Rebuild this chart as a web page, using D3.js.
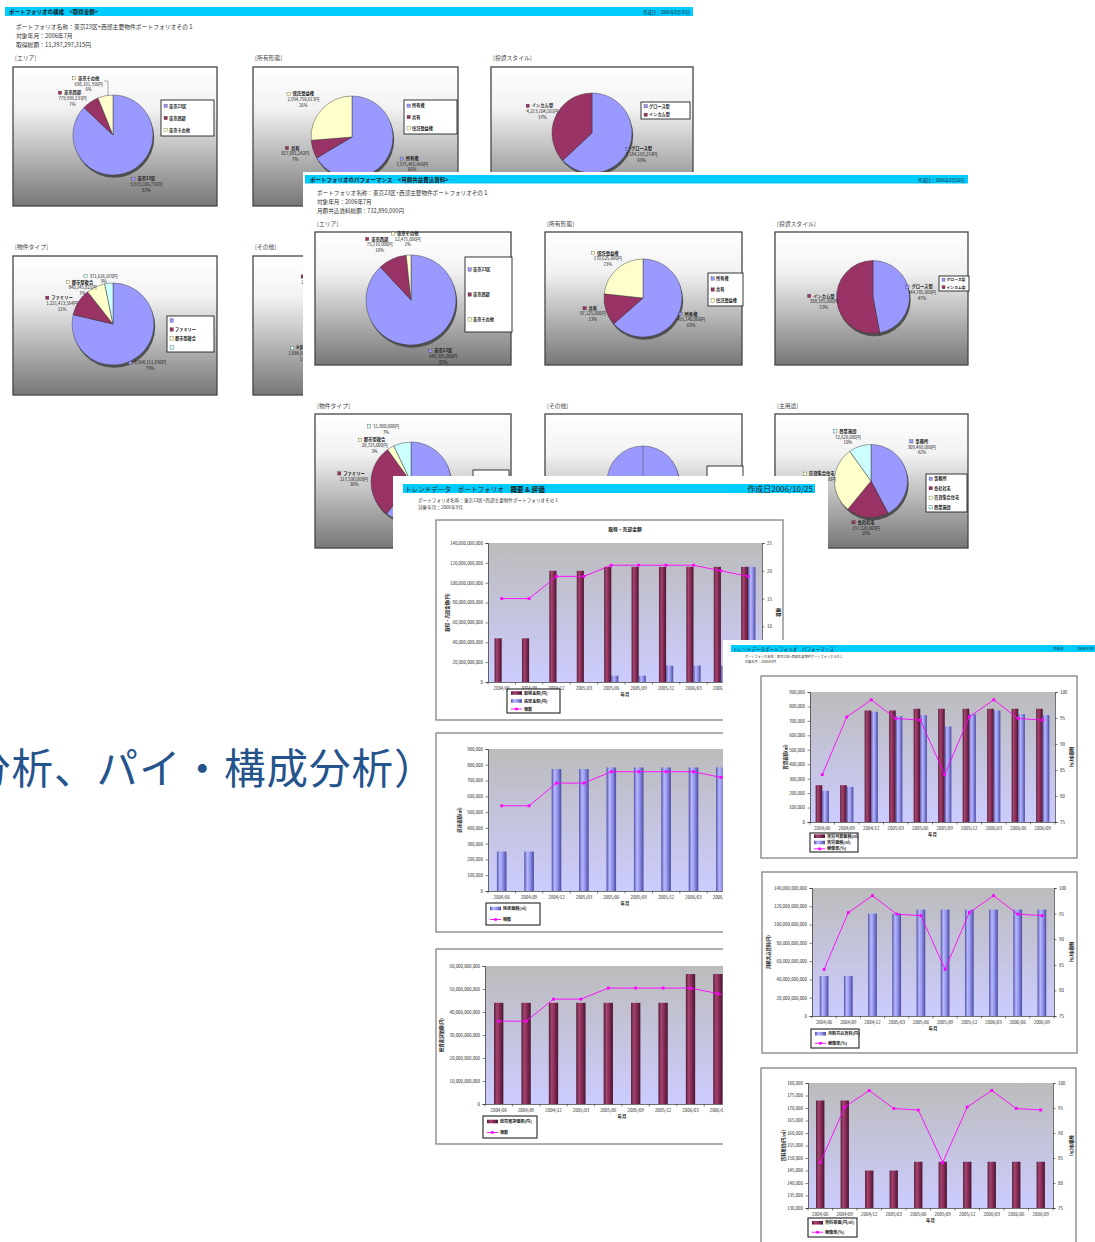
<!DOCTYPE html>
<html><head><meta charset="utf-8">
<script src="https://cdn.jsdelivr.net/npm/d3@7"></script>
<style>body{margin:0;background:#fff;overflow:hidden}svg{display:block}</style>
</head><body>
<script>
// ---------------- DATA ----------------
const periods = ["2004/06","2004/09","2004/12","2005/03","2005/06","2005/09","2005/12","2006/03","2006/06","2006/09"];
const acquisitionAmount = [44e9,44e9,112e9,112e9,116e9,116e9,116e9,116e9,116e9,116e9];
const saleAmount = [0,0,0,0,6.4e9,6.4e9,16.5e9,16.5e9,16.5e9,116e9];
const buildingCount = [15,15,19,19,21,21,21,21,20,19];
const floorArea = [250000,250000,773000,773000,783000,783000,783000,783000,783000,783000];
const assetValue = [44e9,44e9,44e9,44e9,44e9,44e9,44e9,56.5e9,56.5e9,56.5e9];
const leasableArea = [255000,255000,772000,772000,784000,784000,784000,784000,784000,784000];
const leasedArea = [216000,243000,763000,733000,740000,661000,747000,772000,747000,740000];
const occupancyRate = [84.1,95.2,98.5,94.9,94.6,84.1,95.2,98.5,94.9,94.6];
const monthlyRent = [43.6e9,43.6e9,112e9,112e9,116.4e9,116.4e9,116.4e9,116.4e9,116.4e9,116.4e9];
const unitRent = [173000,173000,145000,145000,148500,148500,148500,148500,148500,148500];

const areaCats = ["東京23区","東京西部","東京その他"];
const ownCats = ["所有権","共有","信託受益権"];
const styleCats = ["グロース型","インカム型"];
const typeCats = ["","ファミリー","都市型複合",""];
const otherCatsA = ["","Aタイプ","センター型"];
const otherCatsB = [""];
const useCats = ["事務所","会社社宅","賃貸集合住宅","商業施設"];

const acqAreaVals = [9919106732, 779999233, 698191350];
const acqOwnVals = [7575465460, 827081242, 2994750613];
const acqStyleVals = [7184193214, 4213104101];
const acqTypeVals = [8964111830, 1221413594, 840145821, 371626070];
const acqOtherVals = [7488911600, 1884025300, 2024360415];
const rentAreaVals = [645305000, 75110000, 12475000];
const rentOwnVals = [465140000, 97125000, 170625000];
const rentStyleVals = [344705000, 388185000];
const rentTypeVals = [442775000, 217590000, 20725000, 51800000];
const rentOtherVals = [732890000];
const rentUseVals = [309460000, 137320000, 213490000, 72620000];

const slideTitle = "分析、パイ・構成分析）";

// ---------------- STYLE ----------------
const BLUE="#9999ff", MAR="#993366", YEL="#ffffcc", CYN="#ccffff", MAG="#ff00ff", HDR="#00ccff";
const FONT='"Noto Sans CJK JP","Noto Sans",sans-serif';

const svg=d3.select("body").append("svg").attr("width",1095).attr("height",1242).style("font-family",FONT);
const defs=svg.append("defs");
function lin(id,stops,horiz){
  const g=defs.append("linearGradient").attr("id",id).attr("x1",0).attr("y1",0).attr("x2",horiz?1:0).attr("y2",horiz?0:1);
  stops.forEach(([o,c])=>g.append("stop").attr("offset",o).attr("stop-color",c));
}
lin("pieBg",[[0,"#ffffff"],[0.3,"#f2f2f2"],[1,"#777777"]]);
lin("plotBg",[[0,"#bcbcbc"],[1,"#ccccff"]]);
lin("barM",[[0,"#521a36"],[0.3,"#a4466f"],[0.55,"#8e2f5b"],[1,"#481530"]],true);
lin("barB",[[0,"#5050a8"],[0.3,"#b8b8ff"],[0.55,"#9c9cf2"],[1,"#4a4aa0"]],true);

function txt(g,x,y,s,o={}){
  return g.append("text").attr("x",x).attr("y",y).text(s)
    .attr("font-size",o.fs||5).attr("fill",o.fill||"#1a1a1a")
    .attr("font-weight",o.fw||400).attr("text-anchor",o.anchor||"start");
}
const fmtYen=v=>d3.format(",")(v)+"円";
const pct=d3.format(".0%");

// ---------------- PIE BOX ----------------
function pieBox(g,o){
  const [bx,by,bw,bh]=o.box;
  g.append("rect").attr("x",bx).attr("y",by).attr("width",bw).attr("height",bh)
    .attr("fill","url(#pieBg)").attr("stroke","#454545").attr("stroke-width",1.3);
  const total=d3.sum(o.vals);
  const arcs=d3.pie().sort(null)(o.vals);
  const arc=d3.arc().innerRadius(0).outerRadius(o.r);
  const pg=g.append("g").attr("transform",`translate(${o.cx},${o.cy})`);
  pg.append("circle").attr("cx",1.2).attr("cy",2.8).attr("r",o.r).attr("fill","#505050");
  pg.selectAll("path").data(arcs).join("path").attr("d",arc)
    .attr("fill",(d,i)=>o.colors[i]).attr("stroke","#3a3a3a").attr("stroke-width",0.45);
  if(arcs.length===1) pg.append("line").attr("x1",0).attr("y1",0).attr("x2",0).attr("y2",-o.r).attr("stroke","#3a3a3a").attr("stroke-width",0.45);
  const fs=o.fs||4.3, k=o.k||1.35;
  arcs.forEach((d,i)=>{
    if(o.hide&&o.hide.includes(i)) return;
    const a=(d.startAngle+d.endAngle)/2;
    const nd=(o.nudge&&o.nudge[i])||[0,0];
    const lx=o.cx+k*o.r*Math.sin(a)+nd[0], ly=o.cy-k*o.r*Math.cos(a)+nd[1];
    const lines=(o.cats[i]?[o.cats[i]]:[]).concat([fmtYen(o.vals[i]),pct(o.vals[i]/total)]);
    const lh=fs*1.3, y0=ly-(lines.length-1)*lh/2+fs*0.35;
    let firstW=0;
    lines.forEach((s,j)=>{
      const t=txt(g,lx,y0+j*lh,s,{fs,anchor:"middle",fw:j===0&&o.cats[i]?700:400});
      if(j===0) firstW=t.node().getComputedTextLength();
    });
    const ms=fs*0.75;
    g.append("rect").attr("x",lx-firstW/2-fs*1.3).attr("y",y0-ms).attr("width",ms).attr("height",ms)
      .attr("fill",o.colors[i]).attr("stroke","#333").attr("stroke-width",0.3);
  });
  const [lx,ly,lw,lh]=o.legend;
  g.append("rect").attr("x",lx).attr("y",ly).attr("width",lw).attr("height",lh)
    .attr("fill","#fff").attr("stroke","#222").attr("stroke-width",0.9);
  const step=lh/o.cats.length, lfs=o.lfs||4.2;
  const nShow=o.legShow==null?o.cats.length:o.legShow;
  o.cats.slice(0,nShow).forEach((c,i)=>{
    const cy=ly+step*(i+0.5);
    g.append("rect").attr("x",lx+3).attr("y",cy-lfs*0.4).attr("width",lfs*0.8).attr("height",lfs*0.8)
      .attr("fill",o.colors[i]).attr("stroke","#333").attr("stroke-width",0.3);
    if(c) txt(g,lx+3+lfs*1.2,cy+lfs*0.38,c,{fs:lfs,fw:700});
  });
}

// ---------------- TREND CHART ----------------
function trend(g,o){
  const [bx,by,bw,bh]=o.box;
  g.append("rect").attr("x",bx).attr("y",by).attr("width",bw).attr("height",bh)
    .attr("fill","#fff").attr("stroke","#8c8c8c").attr("stroke-width",1.4);
  const [px,py,pw,ph]=o.plot;
  g.append("rect").attr("x",px).attr("y",py).attr("width",pw).attr("height",ph).attr("fill","url(#plotBg)");
  const x=d3.scaleBand().domain(periods).range([px,px+pw]);
  const yL=d3.scaleLinear().domain(o.lDom).range([py+ph,py]);
  const yR=d3.scaleLinear().domain(o.rDom).range([py+ph,py]);
  const gw=x.bandwidth()*o.gFrac;
  const inner=d3.scaleBand().domain(d3.range(o.bars.length)).range([0,gw]);
  o.bars.forEach((s,si)=>{
    g.append("g").selectAll("rect").data(s.vals).join("rect")
      .attr("x",(v,i)=>x(periods[i])+x.bandwidth()/2-gw/2+inner(si))
      .attr("y",v=>yL(Math.max(v,o.lDom[0])))
      .attr("width",inner.bandwidth())
      .attr("height",v=>Math.max(0,yL(o.lDom[0])-yL(Math.max(v,o.lDom[0]))))
      .attr("fill",`url(#${s.grad})`);
  });
  const tfs=4.4;
  const la=d3.axisLeft(yL).tickValues(d3.range(o.lDom[0],o.lDom[1]+o.lStep/2,o.lStep)).tickFormat(d3.format(",")).tickSize(2.5).tickPadding(2.5);
  const ga=g.append("g").attr("transform",`translate(${px},0)`).call(la);
  const axes=[ga];
  if(!o.noRight){
    const ra=d3.axisRight(yR).tickValues(d3.range(o.rDom[0],o.rDom[1]+o.rStep/2,o.rStep)).tickSize(2.5).tickPadding(2.5);
    axes.push(g.append("g").attr("transform",`translate(${px+pw},0)`).call(ra));
  }
  axes.push(g.append("g").attr("transform",`translate(0,${py+ph})`).call(d3.axisBottom(x).tickSize(0).tickPadding(5)));
  axes.forEach(a=>{
    a.selectAll("path.domain").attr("stroke","#333").attr("stroke-width",0.7);
    a.selectAll("line").attr("stroke","#333").attr("stroke-width",0.6);
    a.selectAll("text").attr("font-size",tfs).attr("fill","#222").style("font-family",FONT);
  });
  g.append("g").selectAll("line").data(d3.range(periods.length+1)).join("line")
    .attr("x1",i=>px+i*x.step()).attr("x2",i=>px+i*x.step())
    .attr("y1",py+ph).attr("y2",py+ph+2.5).attr("stroke","#333").attr("stroke-width",0.6);
  if(o.title) txt(g,px+pw/2,py-12,o.title,{fs:4.8,anchor:"middle",fw:700});
  const cx=(v,i)=>x(periods[i])+x.bandwidth()/2;
  g.append("path").datum(o.line).attr("d",d3.line().x(cx).y(v=>yR(v)))
    .attr("fill","none").attr("stroke",MAG).attr("stroke-width",0.9);
  g.append("g").selectAll("rect").data(o.line).join("rect")
    .attr("x",(v,i)=>cx(v,i)-1.4).attr("y",v=>yR(v)-1.4).attr("width",2.8).attr("height",2.8).attr("fill",MAG);
  txt(g,0,0,o.lTitle,{fs:4.4,anchor:"middle",fw:700}).attr("transform",`translate(${o.lTx},${py+ph/2}) rotate(-90)`);
  if(o.rTitle) txt(g,0,0,o.rTitle,{fs:4.4,anchor:"middle",fw:700}).attr("transform",`translate(${o.rTx},${py+ph/2}) rotate(90)`);
  txt(g,px+pw/2,py+ph+14,"年月",{fs:4.4,anchor:"middle",fw:700});
  const [lx,ly,lw,lh]=o.legend;
  g.append("rect").attr("x",lx).attr("y",ly).attr("width",lw).attr("height",lh)
    .attr("fill","#fff").attr("stroke","#222").attr("stroke-width",1.1);
  const step=lh/o.legItems.length;
  o.legItems.forEach((it,i)=>{
    const cy=ly+step*(i+0.5);
    if(it.grad){
      g.append("rect").attr("x",lx+4).attr("y",cy-1.8).attr("width",11).attr("height",3.6).attr("fill",`url(#${it.grad})`);
    } else {
      g.append("line").attr("x1",lx+4).attr("x2",lx+15).attr("y1",cy).attr("y2",cy).attr("stroke",MAG).attr("stroke-width",0.9);
      g.append("rect").attr("x",lx+8.2).attr("y",cy-1.3).attr("width",2.6).attr("height",2.6).attr("fill",MAG);
    }
    txt(g,lx+17,cy+1.5,it.text,{fs:4.1,fw:700});
  });
}

// ================= SHEET A =================
const A=svg.append("g");
A.append("rect").attr("x",5).attr("y",7).attr("width",688).attr("height",9).attr("fill",HDR);
txt(A,9,14,"ポートフォリオの構成　<取得金額>",{fs:5.5,fw:700});
txt(A,690,14,"作成日：2006年8月10日",{fs:4.3,anchor:"end"});
txt(A,16,29,"ポートフォリオ名称：東京23区+西部主要物件ポートフォリオその１",{fs:5.8,fill:"#333"});
txt(A,16,38,"対象年月：2006年7月",{fs:5.8,fill:"#333"});
txt(A,16,47,"取得総額：11,397,297,315円",{fs:5.8,fill:"#333"});
txt(A,15,60,"[エリア]",{fs:5.8,fill:"#444"});
txt(A,255,60,"[所有形態]",{fs:5.8,fill:"#444"});
txt(A,493,60,"[投資スタイル]",{fs:5.8,fill:"#444"});
txt(A,15,249,"[物件タイプ]",{fs:5.8,fill:"#444"});
txt(A,255,249,"[その他]",{fs:5.8,fill:"#444"});
pieBox(A,{box:[13,67,204,139],cx:113,cy:135,r:40,cats:areaCats,vals:acqAreaVals,colors:[BLUE,MAR,YEL],legend:[161,100,53,36],nudge:[[12,0],[-10,8],[-14,2]]});
A.append("path").attr("d",d3.line()([[104,81],[108,81],[108,96]])).attr("fill","none").attr("stroke","#333").attr("stroke-width",0.4);
pieBox(A,{box:[253,67,205,139],cx:352,cy:137,r:41,cats:ownCats,vals:acqOwnVals,colors:[BLUE,MAR,YEL],legend:[404,100,53,34],nudge:[[12,0],[-4,0],[-8,0]]});
pieBox(A,{box:[491,67,202,139],cx:592,cy:133,r:40,cats:styleCats,vals:acqStyleVals,colors:[BLUE,MAR],legend:[641,102,49,17]});
pieBox(A,{box:[13,256,204,139],cx:113,cy:324,r:41,cats:typeCats,vals:acqTypeVals,colors:[BLUE,MAR,YEL,CYN],legend:[167,316,47,36],k:1.3,nudge:[[4,0],[-6,8],[-8,12],[-4,8]]});
pieBox(A,{box:[253,256,205,139],cx:352,cy:326,r:40,cats:otherCatsA,vals:acqOtherVals,colors:[BLUE,CYN,MAR],legend:[404,300,50,40],legShow:0,hide:[0],nudge:[[0,0],[6,24],[-6,2]]});

// ================= SHEET B =================
const B=svg.append("g");
B.append("rect").attr("x",303).attr("y",172).attr("width",680).attr("height",388).attr("fill","#fff");
B.append("rect").attr("x",305).attr("y",175).attr("width",663).attr("height",8.5).attr("fill",HDR);
txt(B,310,181.5,"ポートフォリオのパフォーマンス　<月額共益費込賃料>",{fs:5.5,fw:700});
txt(B,965,181.5,"作成日：2006年8月10日",{fs:4.3,anchor:"end"});
txt(B,317,195,"ポートフォリオ名称：東京23区+西部主要物件ポートフォリオその１",{fs:5.6,fill:"#333"});
txt(B,317,204,"対象年月：2006年7月",{fs:5.6,fill:"#333"});
txt(B,317,213,"月額共込賃料総額：732,890,000円",{fs:5.6,fill:"#333"});
txt(B,317,226,"[エリア]",{fs:5.8,fill:"#444"});
txt(B,547,226,"[所有形態]",{fs:5.8,fill:"#444"});
txt(B,777,226,"[投資スタイル]",{fs:5.8,fill:"#444"});
txt(B,317,408,"[物件タイプ]",{fs:5.8,fill:"#444"});
txt(B,547,408,"[その他]",{fs:5.8,fill:"#444"});
txt(B,777,408,"[主用途]",{fs:5.8,fill:"#444"});
pieBox(B,{box:[315,232,196,133],cx:411,cy:300,r:45,cats:areaCats,vals:rentAreaVals,colors:[BLUE,MAR,YEL],legend:[465,257,47,75],nudge:[[10,0],[-6,0],[0,0]]});
pieBox(B,{box:[545,232,197,133],cx:643,cy:298,r:39,cats:ownCats,vals:rentOwnVals,colors:[BLUE,MAR,YEL],legend:[708,273,35,33]});
pieBox(B,{box:[775,232,193,133],cx:873,cy:297,r:36.5,cats:styleCats,vals:rentStyleVals,colors:[BLUE,MAR],legend:[939,276,30,15],lfs:3.8});
pieBox(B,{box:[315,414,196,134],cx:411,cy:482,r:40,cats:typeCats,vals:rentTypeVals,colors:[BLUE,MAR,YEL,CYN],legend:[473,470,36,62],legShow:1,hide:[0],nudge:[[0,0],[-3,-2],[-9,10],[-13,0]]});
pieBox(B,{box:[545,414,197,134],cx:643,cy:482,r:36,cats:otherCatsB,vals:rentOtherVals,colors:[BLUE],legend:[707,466,36,60],legShow:0,hide:[0]});
pieBox(B,{box:[775,414,193,134],cx:871,cy:481,r:36.5,cats:useCats,vals:rentUseVals,colors:[BLUE,MAR,YEL,CYN],legend:[926,474,41,38],nudge:[[3,-22],[0,-2],[0,0],[-8,3]]});

// ================= SHEET C =================
const C=svg.append("g");
C.append("rect").attr("x",393).attr("y",476).attr("width",435).attr("height",766).attr("fill","#fff");
C.append("rect").attr("x",403).attr("y",484).attr("width",412).attr("height",9).attr("fill",HDR);
const hc=txt(C,405,491.6,"",{fs:6.6});
hc.append("tspan").text("トレンドデータ　ポートフォリオ　");
hc.append("tspan").attr("font-weight",700).text("概要 & 評価");
txt(C,813,491.8,"作成日2006/10/25",{fs:8,anchor:"end"});
txt(C,418,502,"ポートフォリオ名称：東京23区+西部主要物件ポートフォリオその１",{fs:4.6,fill:"#333"});
txt(C,418,509,"対象年月：2006年9月",{fs:4.6,fill:"#333"});
trend(C,{box:[436,520,347,200],plot:[488,543,274,139],title:"取得・売却金額",
  lDom:[0,140e9],lStep:20e9,rDom:[0,25],rStep:5,gFrac:0.52,
  bars:[{vals:acquisitionAmount,grad:"barM"},{vals:saleAmount,grad:"barB"}],line:buildingCount,
  lTitle:"取得・売却金額(円)",lTx:449,rTitle:"棟数",rTx:777,
  legend:[507,689,53,24],legItems:[{grad:"barM",text:"取得金額(円)"},{grad:"barB",text:"売却金額(円)"},{text:"棟数"}]});
trend(C,{box:[436,733,347,199],plot:[488,749,274,142],
  lDom:[0,900000],lStep:100000,rDom:[0,25],rStep:5,gFrac:0.35,noRight:true,
  bars:[{vals:floorArea,grad:"barB"}],line:buildingCount,
  lTitle:"延床面積(㎡)",lTx:461,
  legend:[486,903,54,22],legItems:[{grad:"barB",text:"延床面積(㎡)"},{text:"棟数"}]});
trend(C,{box:[436,949,347,195],plot:[485,966,274,138],
  lDom:[0,60e9],lStep:10e9,rDom:[0,25],rStep:5,gFrac:0.34,noRight:true,
  bars:[{vals:assetValue,grad:"barM"}],line:buildingCount,
  lTitle:"総資産評価額(円)",lTx:443,
  legend:[483,1116,54,22],legItems:[{grad:"barM",text:"総資産評価額(円)"},{text:"棟数"}]});

// ================= SHEET D =================
const D=svg.append("g");
D.append("rect").attr("x",723).attr("y",640).attr("width",372).attr("height",602).attr("fill","#fff");
D.append("rect").attr("x",731).attr("y",645).attr("width",364).attr("height",7).attr("fill",HDR);
txt(D,733,650.6,"トレンドデータポートフォリオ　パフォーマンス",{fs:4.6});
txt(D,1053,650.4,"作成日",{fs:3.6});
txt(D,1077,650.4,"2006/9/30",{fs:3.6});
txt(D,745,657.5,"ポートフォリオ名称：東京23区+西部主要物件ポートフォリオその１",{fs:3.2,fill:"#333"});
txt(D,745,662.5,"対象年月：2006年9月",{fs:3.2,fill:"#333"});
trend(D,{box:[761,676,316,182],plot:[810,692,245,130],
  lDom:[0,900000],lStep:100000,rDom:[75,100],rStep:5,gFrac:0.54,
  bars:[{vals:leasableArea,grad:"barM"},{vals:leasedArea,grad:"barB"}],line:occupancyRate,
  lTitle:"賃貸面積(㎡)",lTx:787,rTitle:"稼働率(%)",rTx:1070,
  legend:[810,833,48,19],legItems:[{grad:"barM",text:"賃貸可能面積(㎡)"},{grad:"barB",text:"賃貸面積(㎡)"},{text:"稼働率(%)"}]});
trend(D,{box:[762,872,315,181],plot:[812,888,242,128],
  lDom:[0,140e9],lStep:20e9,rDom:[75,100],rStep:5,gFrac:0.36,
  bars:[{vals:monthlyRent,grad:"barB"}],line:occupancyRate,
  lTitle:"月額共込賃料(円)",lTx:770,rTitle:"稼働率(%)",rTx:1070,
  legend:[811,1029,48,19],legItems:[{grad:"barB",text:"月額共込賃料(円)"},{text:"稼働率(%)"}]});
trend(D,{box:[761,1068,315,190],plot:[808,1083,245,125],
  lDom:[130000,180000],lStep:5000,rDom:[75,100],rStep:5,gFrac:0.34,
  bars:[{vals:unitRent,grad:"barM"}],line:occupancyRate,
  lTitle:"賃料単価(円/㎡)",lTx:785,rTitle:"稼働率(%)",rTx:1070,
  legend:[808,1218,49,19],legItems:[{grad:"barM",text:"賃料単価(円/㎡)"},{text:"稼働率(%)"}]});

// ================= SLIDE TITLE TEXT (runs off the left edge, as in the source) =================
svg.append("text").attr("x",-31).attr("y",784).attr("font-size",41.5).attr("letter-spacing",1)
  .attr("fill","#25538c").text(slideTitle);
</script>
</body></html>
